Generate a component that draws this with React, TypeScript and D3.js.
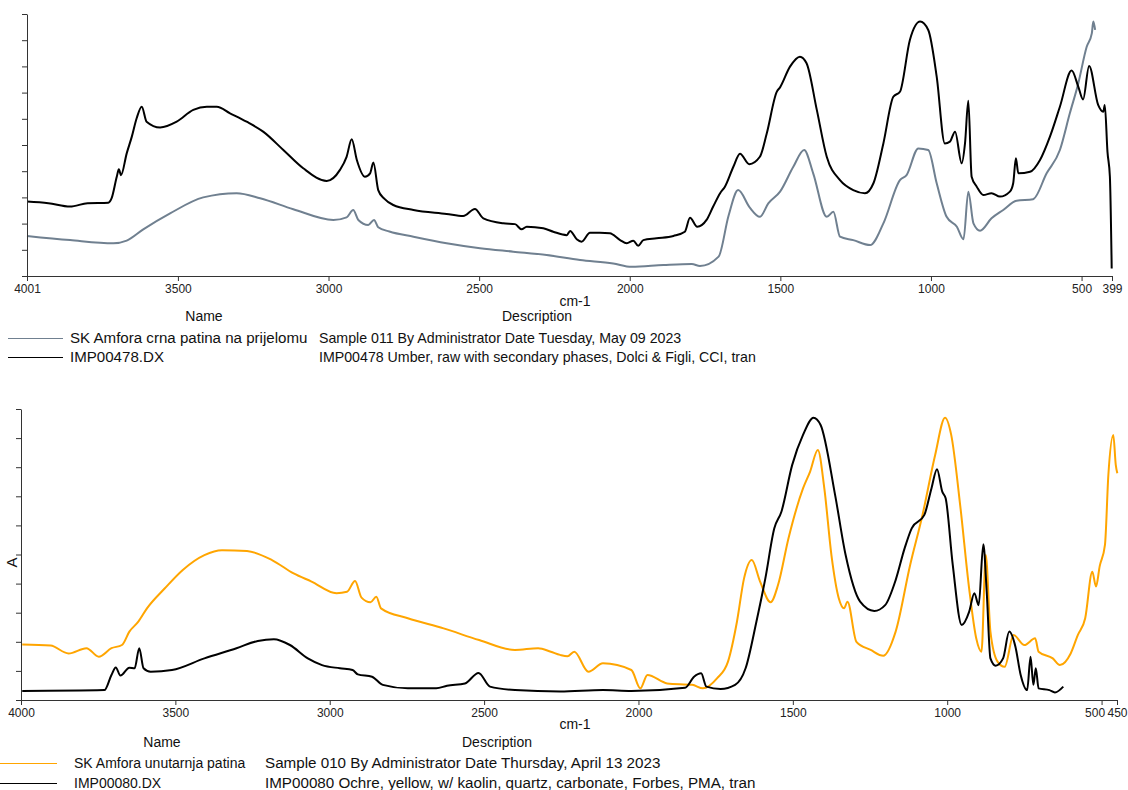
// Two stacked FTIR panels: sample spectrum vs. reference library spectrum.
// x = wavenumber (cm-1, decreasing to the right), y = absorbance (unlabelled ticks).
import { useEffect, useRef } from "react";
import * as d3 from "d3";

type Pt = [number, number]; // [wavenumber, absorbance in tick units]

// ---- panel 1 -------------------------------------------------------------
const topTicks = [4001, 3500, 3000, 2500, 2000, 1500, 1000, 500, 399];

const crnaPatina: Pt[] = [
  [4001, 1.53], [3858, 1.37], [3714, 1.25], [3670, 1.35], [3615, 1.78], [3526, 2.39],
  [3416, 3.0], [3305, 3.16], [3227, 2.97], [3117, 2.55], [2984, 2.14], [2940, 2.24],
  [2918, 2.52], [2901, 2.14], [2868, 1.95], [2849, 2.14], [2835, 1.86], [2798, 1.7],
  [2718, 1.5], [2608, 1.25], [2497, 1.06], [2387, 0.93], [2276, 0.8], [2165, 0.61],
  [2055, 0.48], [1994, 0.35], [1888, 0.42], [1794, 0.46], [1767, 0.38], [1705, 0.74],
  [1672, 2.3], [1640, 3.28], [1602, 2.62], [1568, 2.26], [1540, 2.77], [1501, 3.22],
  [1457, 4.17], [1421, 4.81], [1391, 3.92], [1346, 2.26], [1324, 2.45], [1302, 1.5],
  [1258, 1.37], [1202, 1.18], [1158, 2.01], [1103, 3.66], [1081, 3.85], [1042, 4.87],
  [1009, 4.81], [981, 3.54], [948, 2.26], [914, 1.88], [892, 1.4], [876, 3.22],
  [859, 2.01], [837, 1.73], [799, 2.2], [760, 2.52], [716, 2.87], [661, 2.93],
  [616, 3.92], [572, 4.81], [539, 6.21], [511, 7.35], [483, 8.75], [466, 9.26],
  [461, 9.71], [455, 9.39],
];

const umber478: Pt[] = [
  [4001, 2.84], [3930, 2.78], [3858, 2.65], [3800, 2.78], [3731, 2.8], [3720, 2.97],
  [3703, 3.79], [3696, 4.07], [3689, 3.85], [3670, 4.68], [3653, 5.32], [3637, 6.02],
  [3620, 6.46], [3604, 5.89], [3559, 5.67], [3504, 5.89], [3449, 6.34], [3404, 6.46],
  [3371, 6.46], [3327, 6.21], [3272, 5.89], [3217, 5.51], [3150, 4.81], [3084, 4.11],
  [3006, 3.63], [2962, 4.05], [2940, 4.55], [2923, 5.22], [2906, 4.43], [2879, 3.79],
  [2862, 3.92], [2851, 4.33], [2835, 3.28], [2815, 2.95], [2785, 2.71], [2718, 2.52],
  [2608, 2.37], [2553, 2.29], [2514, 2.56], [2486, 2.2], [2420, 2.01], [2381, 1.98],
  [2359, 1.78], [2342, 1.88], [2287, 1.82], [2254, 1.69], [2209, 1.56], [2198, 1.72],
  [2176, 1.4], [2160, 1.31], [2132, 1.65], [2099, 1.65], [2066, 1.63], [2032, 1.37],
  [2010, 1.25], [1988, 1.35], [1972, 1.15], [1955, 1.37], [1911, 1.44], [1855, 1.53],
  [1817, 1.69], [1800, 2.22], [1776, 1.88], [1745, 2.14], [1723, 2.65], [1700, 3.16],
  [1684, 3.41], [1656, 4.17], [1634, 4.67], [1603, 4.27], [1568, 4.55], [1545, 5.45],
  [1512, 7.03], [1501, 7.2], [1468, 7.99], [1435, 8.37], [1413, 8.12], [1379, 6.34],
  [1346, 4.55], [1302, 3.66], [1258, 3.28], [1219, 3.16], [1191, 3.54], [1158, 5.06],
  [1125, 6.84], [1103, 7.03], [1070, 9.01], [1036, 9.71], [1009, 9.39], [981, 7.61],
  [954, 5.06], [937, 5.13], [920, 5.51], [898, 4.3], [887, 5.06], [876, 6.69],
  [865, 3.79], [848, 3.41], [826, 3.09], [799, 3.16], [771, 3.03], [738, 3.22],
  [727, 3.54], [718, 4.49], [710, 3.92], [671, 3.98], [638, 4.43], [605, 5.32],
  [572, 6.46], [533, 7.84], [511, 7.23], [495, 6.74], [475, 8.02], [445, 6.53],
  [428, 6.27], [423, 6.53], [414, 4.74], [406, 3.79], [400, 0.29],
];

// ---- panel 2 -------------------------------------------------------------
const bottomTicks = [4000, 3500, 3000, 2500, 2000, 1500, 1000, 500, 450];

const unutarnjaPatina: Pt[] = [
  [3996, 1.91], [3904, 1.87], [3846, 1.6], [3788, 1.78], [3748, 1.49], [3707, 1.78],
  [3673, 1.89], [3649, 2.35], [3620, 2.69], [3592, 3.15], [3534, 3.84], [3476, 4.47],
  [3406, 4.98], [3349, 5.15], [3268, 5.12], [3187, 4.81], [3117, 4.35], [3059, 4.07],
  [2978, 3.67], [2944, 3.72], [2918, 4.09], [2897, 3.52], [2868, 3.36], [2849, 3.55],
  [2834, 3.15], [2747, 2.81], [2631, 2.46], [2516, 2.06], [2400, 1.72], [2325, 1.78],
  [2284, 1.66], [2254, 1.55], [2230, 1.5], [2208, 1.66], [2162, 0.97], [2115, 1.26],
  [2023, 1.03], [1994, 0.4], [1971, 0.86], [1907, 0.57], [1826, 0.52], [1791, 0.4],
  [1745, 0.75], [1710, 1.32], [1681, 2.69], [1658, 4.18], [1633, 4.81], [1606, 4.07],
  [1572, 3.36], [1548, 3.95], [1514, 5.56], [1467, 7.27], [1444, 7.85], [1419, 8.59],
  [1398, 7.27], [1375, 4.98], [1351, 3.49], [1334, 3.15], [1323, 3.38], [1294, 2.0],
  [1248, 1.72], [1207, 1.52], [1167, 2.35], [1120, 4.64], [1080, 6.36], [1039, 8.42],
  [1007, 9.7], [987, 9.11], [958, 6.7], [929, 3.84], [906, 2.12], [889, 1.66],
  [875, 4.98], [860, 2.35], [837, 1.32], [814, 1.14], [785, 2.23], [750, 1.89],
  [715, 2.12], [704, 1.66], [658, 1.43], [635, 1.2], [600, 1.6], [577, 2.23],
  [553, 2.81], [530, 4.41], [518, 3.9], [506, 4.6], [489, 5.33], [478, 7.73],
  [462, 9.11], [454, 8.08], [449, 7.79],
];

const ochre080: Pt[] = [
  [3996, 0.31], [3730, 0.34], [3707, 0.86], [3693, 1.12], [3678, 0.84], [3649, 1.11],
  [3632, 1.09], [3617, 1.78], [3603, 1.09], [3580, 0.97], [3511, 1.03], [3406, 1.43],
  [3302, 1.78], [3233, 2.03], [3181, 2.09], [3129, 1.89], [3071, 1.43], [3025, 1.2],
  [2967, 1.09], [2926, 1.03], [2909, 0.88], [2863, 0.8], [2828, 0.52], [2747, 0.4],
  [2655, 0.4], [2620, 0.49], [2562, 0.57], [2518, 0.93], [2481, 0.46], [2400, 0.34],
  [2254, 0.29], [2115, 0.34], [2023, 0.31], [1849, 0.42], [1820, 0.8], [1797, 0.92],
  [1780, 0.46], [1734, 0.38], [1687, 0.52], [1653, 1.09], [1618, 2.69], [1589, 4.18],
  [1560, 5.9], [1537, 6.47], [1502, 8.08], [1467, 9.11], [1433, 9.7], [1410, 9.45],
  [1363, 7.04], [1329, 4.98], [1282, 3.38], [1236, 3.06], [1201, 3.26], [1167, 4.12],
  [1138, 5.21], [1115, 5.9], [1074, 6.36], [1051, 7.27], [1033, 7.93], [1016, 7.16],
  [1005, 6.93], [982, 4.64], [953, 2.58], [929, 3.03], [912, 3.67], [898, 3.26],
  [883, 5.35], [872, 3.72], [860, 1.43], [843, 1.18], [819, 1.43], [799, 2.35],
  [779, 1.83], [762, 0.86], [741, 0.34], [730, 1.49], [721, 0.52], [713, 1.09],
  [704, 0.4], [669, 0.34], [651, 0.26], [624, 0.46],
];

type Series = { name: string; desc: string; color: string; data: Pt[] };

const panels = [
  {
    x0: 27, x1: 1112, yTop: 14, yBot: 276,
    domain: [4001, 399] as [number, number],
    ticks: topTicks,
    yLabel: "",
    cmY: 306, headY: 321, rows: [343, 362],
    legLine: [8, 63], nameX: 70, descX: 319, nameHead: 204, descHead: 537,
    nameSize: 15.1, descSize: 14.2, nudge: new Map<number, number>(),
    series: [
      { name: "SK Amfora crna patina na prijelomu", desc: "Sample 011 By Administrator Date Tuesday, May 09 2023", color: "#708090", data: crnaPatina },
      { name: "IMP00478.DX", desc: "IMP00478 Umber, raw with secondary phases, Dolci & Figli, CCI, tran", color: "#000000", data: umber478 },
    ] as Series[],
  },
  {
    x0: 21, x1: 1117, yTop: 409, yBot: 700,
    domain: [4000, 450] as [number, number],
    ticks: bottomTicks,
    yLabel: "A",
    cmY: 729, headY: 747, rows: [768, 788],
    legLine: [0, 57], nameX: 74, descX: 265, nameHead: 162, descHead: 497,
    nameSize: 14, descSize: 15.2, nudge: new Map<number, number>([[500, -7]]),
    series: [
      { name: "SK Amfora unutarnja patina", desc: "Sample 010 By Administrator Date Thursday, April 13 2023", color: "#ffa500", data: unutarnjaPatina },
      { name: "IMP00080.DX", desc: "IMP00080 Ochre, yellow, w/ kaolin, quartz, carbonate, Forbes, PMA, tran", color: "#000000", data: ochre080 },
    ] as Series[],
  },
];

const W = 1128;
const H = 790;
const FONT = "'Liberation Sans', Arial, sans-serif";

export default function App() {
  const ref = useRef<SVGSVGElement>(null);

  useEffect(() => {
    const svg = d3.select(ref.current!);
    svg.selectAll("*").remove();

    for (const p of panels) {
      const x = d3.scaleLinear().domain(p.domain).range([p.x0, p.x1]);
      const y = d3.scaleLinear().domain([0, 10]).range([p.yBot, p.yTop]);
      const g = svg.append("g");

      // curves
      const line = d3
        .line<Pt>()
        .x((d) => x(d[0]))
        .y((d) => y(d[1]))
        .curve(d3.curveMonotoneX);
      for (const s of p.series) {
        const pts = [...s.data].sort((a, b) => b[0] - a[0]);
        g.append("path")
          .attr("d", line(pts))
          .attr("fill", "none")
          .attr("stroke", s.color)
          .attr("stroke-width", 2)
          .attr("stroke-linejoin", "round");
      }

      // y axis (no labels)
      const gy = g
        .append("g")
        .attr("transform", `translate(${p.x0},0)`)
        .call(d3.axisLeft(y).tickValues(d3.range(0, 11)).tickFormat(() => "").tickSize(5).tickSizeOuter(0));
      gy.selectAll("path,line").attr("stroke", "#333");

      // x axis
      const gx = g
        .append("g")
        .attr("transform", `translate(0,${p.yBot})`)
        .call(d3.axisBottom(x).tickValues(p.ticks).tickFormat(d3.format("d")).tickSize(5).tickPadding(3).tickSizeOuter(0));
      gx.selectAll("path,line").attr("stroke", "#333");
      gx.selectAll<SVGTextElement, number>("text")
        .attr("fill", "#222")
        .attr("font-family", FONT)
        .attr("font-size", 12)
        .attr("dx", (d) => p.nudge.get(d) ?? 0);

      const txt = (tx: number, ty: number, s: string, anchor = "start", size = 14) =>
        g.append("text")
          .attr("x", tx).attr("y", ty)
          .attr("text-anchor", anchor)
          .attr("font-family", FONT).attr("font-size", size)
          .attr("fill", "#111")
          .text(s);

      txt(575, p.cmY, "cm-1", "middle", 14);
      txt(p.nameHead, p.headY, "Name", "middle");
      txt(p.descHead, p.headY, "Description", "middle");
      if (p.yLabel) {
        txt(0, 0, p.yLabel, "middle", 15).attr("transform", `translate(17,${(p.yTop + p.yBot) / 2 + 8}) rotate(-90)`);
      }

      p.series.forEach((s, i) => {
        const ry = p.rows[i];
        g.append("line")
          .attr("x1", p.legLine[0]).attr("x2", p.legLine[1])
          .attr("y1", ry - 4.5).attr("y2", ry - 4.5)
          .attr("stroke", s.color)
          .attr("stroke-width", 1);
        txt(p.nameX, ry, s.name, "start", p.nameSize);
        txt(p.descX, ry, s.desc, "start", p.descSize);
      });
    }
  }, []);

  return (
    <div style={{ position: "absolute", left: 0, top: 0, width: W, height: H, background: "#fff" }}>
      <svg ref={ref} width={W} height={H} viewBox={`0 0 ${W} ${H}`} />
    </div>
  );
}
